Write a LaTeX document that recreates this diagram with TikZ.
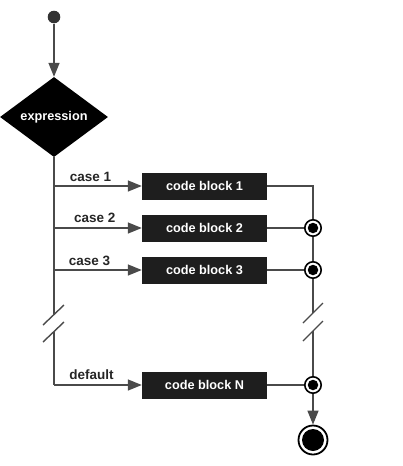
\documentclass[tikz,border=0pt]{standalone}
\usepackage{fontspec}
\setmainfont{Liberation Sans}
\usetikzlibrary{arrows.meta,shapes.geometric}
\definecolor{linegray}{HTML}{4A4A4A}
\definecolor{blockfill}{HTML}{1E1E1E}
\begin{document}
\begin{tikzpicture}[x=1pt,y=-1pt,
  conn/.style={draw=linegray,line width=1.4pt},
  arr/.style={conn,-{Triangle[length=14pt,width=11pt]}},
  codeblock/.style={rectangle,fill=blockfill,text=white,minimum width=125pt,minimum height=27pt,inner sep=0pt,font=\bfseries\fontsize{12.7}{14}\selectfont},
  caselabel/.style={text=black!85,inner sep=0pt,font=\bfseries\fontsize{13.5}{15}\selectfont},
  junction/.style={circle,draw=black,line width=1.6pt,fill=white,minimum size=16.4pt,inner sep=0pt},
  jdot/.style={circle,fill=black,minimum size=10.5pt,inner sep=0pt},
  slash/.style={draw=linegray,line width=1.4pt}]
\useasboundingbox (0,0) rectangle (403,466);
% start
\node[circle,fill=black!80,minimum size=12.6pt,inner sep=0pt] (start) at (54,17) {};
\node[diamond,fill=black,text=white,aspect=1.35,minimum width=108pt,minimum height=80pt,inner sep=0pt,font=\bfseries\fontsize{12.7}{14}\selectfont] (expr) at (54,117) {expression};
\draw[arr] (start) -- (expr.north);
% blocks
\node[codeblock] (b1) at (204.5,186) {code block 1};
\node[codeblock] (b2) at (204.5,228) {code block 2};
\node[codeblock] (b3) at (204.5,270) {code block 3};
\node[codeblock] (bn) at (204.5,385) {code block N};
% trunk coordinates
\coordinate (t1) at (54,186);
\coordinate (t2) at (54,228);
\coordinate (t3) at (54,270);
\coordinate (tb1) at (54,315);
\coordinate (tb2) at (54,332);
\coordinate (tn) at (54,385);
\draw[conn] (expr.south) -- (tb1);
\draw[conn] (tb2) -- (tn);
\draw[slash] (43,325) -- (64,305);
\draw[slash] (43,342) -- (64,322);
\draw[arr] (t1) -- (b1.west);
\draw[arr] (t2) -- (b2.west);
\draw[arr] (t3) -- (b3.west);
\draw[arr] (tn) -- (bn.west);
% labels
\node[caselabel] (l1) at (90.5,177) {case 1};
\node[caselabel] (l2) at (94.7,218) {case 2};
\node[caselabel] (l3) at (89.5,261) {case 3};
\node[caselabel] (ld) at (91.5,375) {default};
% right side
\node[junction] (j2) at (313,228) {};
\node[jdot] at (j2) {};
\node[junction] (j3) at (313,270) {};
\node[jdot] at (j3) {};
\node[junction] (jn) at (313,385) {};
\node[jdot] at (jn) {};
\coordinate (c1) at (313,186);
\coordinate (rb1) at (313,313);
\coordinate (rb2) at (313,331);
\draw[conn] (b1.east) -- (c1) -- (j2.north);
\draw[conn] (b2.east) -- (j2.west);
\draw[conn] (b3.east) -- (j3.west);
\draw[conn] (bn.east) -- (jn.west);
\draw[conn] (j2.south) -- (j3.north);
\draw[conn] (j3.south) -- (rb1);
\draw[conn] (rb2) -- (jn.north);
\draw[slash] (303,323) -- (323,303);
\draw[slash] (303,341) -- (323,321);
% end
\node[circle,draw=black,line width=1.8pt,fill=white,minimum size=29pt,inner sep=0pt] (end) at (313,440) {};
\node[circle,fill=black,minimum size=22pt,inner sep=0pt] at (end) {};
\draw[arr] (jn.south) -- (end.north);
\end{tikzpicture}
\end{document}
